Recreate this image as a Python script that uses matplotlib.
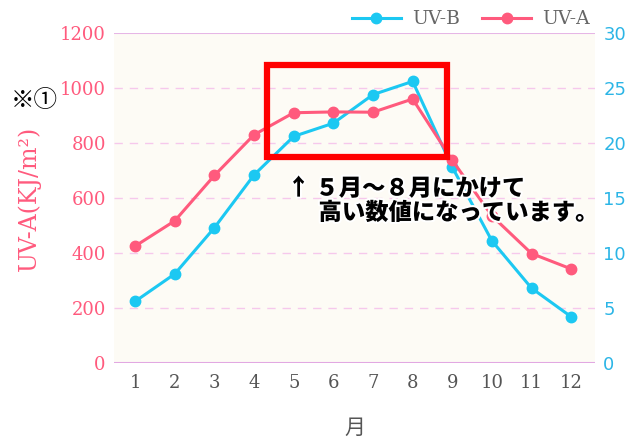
import matplotlib
matplotlib.use("Agg")
import matplotlib.pyplot as plt
import matplotlib.patheffects as pe
from matplotlib.patches import Rectangle
from matplotlib.lines import Line2D

# data
months = [1, 2, 3, 4, 5, 6, 7, 8, 9, 10, 11, 12]
uva = [425, 517, 682, 830, 910, 913, 912, 960, 737, 535, 398, 342]
uvb = [5.6, 8.1, 12.3, 17.1, 20.6, 21.8, 24.4, 25.6, 17.8, 11.1, 6.8, 4.2]
left_ticks = [0, 200, 400, 600, 800, 1000, 1200]
right_ticks = [0, 5, 10, 15, 20, 25, 30]

PINK = "#ff5a7d"
BLUE = "#1cc8f2"
GREY = "#555555"
JP = ["Noto Sans CJK JP", "DejaVu Sans"]

fig = plt.figure(figsize=(6.27, 4.4), dpi=100)
ax2 = fig.add_axes([0.182, 0.175, 0.767, 0.75])
ax = ax2.twinx()
ax.yaxis.tick_left()
ax.yaxis.set_label_position("left")
ax2.yaxis.tick_right()
ax2.set_facecolor("#fdfbf5")
ax.patch.set_visible(False)

# gridlines (on the background axes)
for v in right_ticks[1:-1]:
    ax2.axhline(v, color="#f6c8ec", lw=1, ls=(0, (6, 5)), zorder=0)
ax2.axhline(30, color="#e6b6e6", lw=1.5, zorder=0)
ax2.axhline(0, color="#e2a8e2", lw=1.5, zorder=0)

ax2.plot(months, uvb, color=BLUE, lw=2.2, marker="o", ms=7.5, zorder=3)
ax.plot(months, uva, color=PINK, lw=2.2, marker="o", ms=7.5, zorder=3)

ax.set_xlim(0.47, 12.6)
ax.set_ylim(0, 1200)
ax2.set_ylim(0, 30)
ax.set_yticks(left_ticks)
ax2.set_yticks(right_ticks)
ax2.set_xticks(months)

for a in (ax, ax2):
    for s in a.spines.values():
        s.set_visible(False)
    a.tick_params(length=0)

ax.set_yticklabels([str(t) for t in left_ticks], color=PINK, fontsize=13,
                   family="DejaVu Serif")
ax.tick_params(axis="y", pad=6)
ax2.set_yticklabels([str(t) for t in right_ticks], color="#2bb5e6", fontsize=13,
                    family="DejaVu Sans")
ax2.tick_params(axis="y", pad=6)
ax2.set_xticklabels([str(m) for m in months], color=GREY, fontsize=13,
                    family="DejaVu Serif")
ax2.tick_params(axis="x", pad=8)

ax.set_ylabel("UV-A(KJ/m²)", color=PINK, fontsize=17, family="DejaVu Serif")
ax.yaxis.set_label_coords(-0.152, 0.50)
fig.text(0.054, 0.772, "※①", fontsize=17, family=JP, ha="center", va="center",
         color="black")

ax2.set_xlabel("月", color=GREY, fontsize=15, family=JP, labelpad=18)

# legend
handles = [Line2D([], [], color=BLUE, lw=2.2, marker="o", ms=7.5),
           Line2D([], [], color=PINK, lw=2.2, marker="o", ms=7.5)]
fig.legend(handles, ["UV-B", "UV-A"], loc="upper right",
           bbox_to_anchor=(0.968, 1.015), ncol=2, frameon=False,
           prop={"family": "DejaVu Serif", "size": 13.5}, labelcolor="#666666",
           handlelength=2.6, columnspacing=1.2, handletextpad=0.6)

# red highlight box and note
fig.add_artist(Rectangle((0.426, 0.643), 0.287, 0.209, fill=False,
                         edgecolor="#ff0000", lw=4.5,
                         transform=fig.transFigure, zorder=10))
halo = [pe.withStroke(linewidth=3, foreground="white")]
fig.text(0.458, 0.572, "↑", fontsize=16.5, family=JP, weight="black",
         ha="left", va="center", path_effects=halo, zorder=11)
fig.text(0.503, 0.572, "５月～８月にかけて", fontsize=16.8, family=JP,
         weight="black", ha="left", va="center", path_effects=halo, zorder=11)
fig.text(0.508, 0.517, "高い数値になっています。", fontsize=16.8, family=JP,
         weight="black", ha="left", va="center", path_effects=halo, zorder=11)

fig.savefig("out.png", dpi=100)
